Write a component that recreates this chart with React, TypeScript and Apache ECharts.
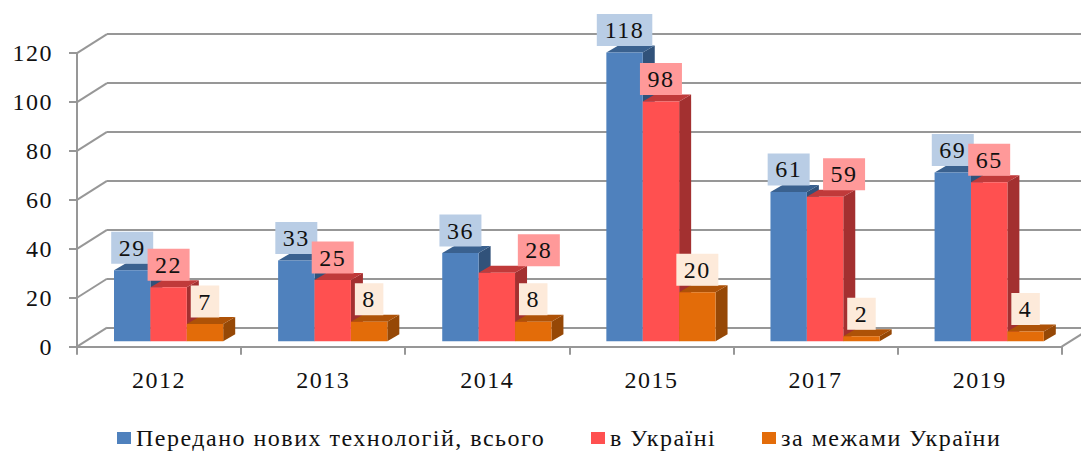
import React, { useEffect, useRef } from "react";
import * as echarts from "echarts";

const categories = ["2012", "2013", "2014", "2015", "2017", "2019"];
const yTicks = [0, 20, 40, 60, 80, 100, 120];
const totalValues = [29, 33, 36, 118, 61, 69];
const ukraineValues = [22, 25, 28, 98, 59, 65];
const abroadValues = [7, 8, 8, 20, 2, 4];
const seriesNames = ["Передано нових технологій, всього", "в Україні", "за межами України"];

const faces = [
  { front: "#4F81BD", top: "#3A618F", side: "#31527A", label: "#B9CDE5" },
  { front: "#FF5050", top: "#C03A3A", side: "#A33030", label: "#FF9999" },
  { front: "#E36C09", top: "#AE5207", side: "#964806", label: "#FDEADA" },
];
const GREY = "#979797";
const FONT = '"Liberation Serif", "Times New Roman", serif';
const WALL = { dx: 30, dy: -19 };
const DEPTH = { dx: 12, dy: -7 };
const BAR = { inset: 37, width: 36.4, lift: 5.5 };
const labelShift: Record<string, number> = { "1:2": 42, "1:4": 19 };

function geometry(api: any, seriesIndex: number) {
  const idx = api.value(0);
  const val = api.value(1);
  const band = api.size([1, 0])[0];
  const [cx, y0] = api.coord([idx, 0]);
  const [, yv] = api.coord([idx, val]);
  const x0 = cx - band / 2 + BAR.inset + seriesIndex * BAR.width;
  return { idx, val, x0, x1: x0 + BAR.width, base: y0 - BAR.lift, top: yv - BAR.lift };
}

const barRender = (seriesIndex: number) => (_: any, api: any) => {
  const { x0, x1, base, top } = geometry(api, seriesIndex);
  const f = faces[seriesIndex];
  const { dx, dy } = DEPTH;
  return {
    type: "group",
    children: [
      { type: "polygon", shape: { points: [[x1, top], [x1 + dx, top + dy], [x1 + dx, base + dy], [x1, base]] }, style: { fill: f.side } },
      { type: "polygon", shape: { points: [[x0, top], [x1, top], [x1 + dx, top + dy], [x0 + dx, top + dy]] }, style: { fill: f.top } },
      { type: "rect", shape: { x: x0, y: top, width: x1 - x0, height: base - top }, style: { fill: f.front } },
    ],
  };
};

const labelRender = (seriesIndex: number) => (_: any, api: any) => {
  const { idx, val, x0, x1, top } = geometry(api, seriesIndex);
  const text = String(val);
  const w = text.length * 13.5 + 15;
  const h = 32;
  const shift = labelShift[`${seriesIndex}:${idx}`] || 0;
  const cx = (x0 + x1) / 2 + shift;
  const bottom = top - 6.5;
  return {
    type: "group",
    children: [
      { type: "rect", shape: { x: cx - w / 2, y: bottom - h, width: w, height: h }, style: { fill: faces[seriesIndex].label } },
      {
        type: "text",
        style: { text, x: cx, y: bottom - h / 2, align: "center", verticalAlign: "middle", fill: "#111", font: `24px ${FONT}` },
      },
    ],
  };
};

const wallRender = (_: any, api: any) => {
  const [x, y] = api.coord([0, api.value(0)]);
  const band = api.size([1, 0])[0];
  return {
    type: "line",
    shape: { x1: x - band / 2, y1: y, x2: x - band / 2 + WALL.dx, y2: y + WALL.dy },
    style: { stroke: GREY, lineWidth: 2 },
  };
};

const rightEdgeRender = (_: any, api: any) => {
  const [x, y] = api.coord([categories.length - 1, 0]);
  const band = api.size([1, 0])[0];
  return {
    type: "line",
    shape: { x1: x + band / 2, y1: y, x2: x + band / 2 + WALL.dx, y2: y + WALL.dy },
    style: { stroke: GREY, lineWidth: 2 },
  };
};

const valuesBySeries = [totalValues, ukraineValues, abroadValues];

export default function App() {
  const ref = useRef<HTMLDivElement>(null);
  useEffect(() => {
    document.body.style.margin = "0";
    const chart = echarts.init(ref.current!, undefined, { renderer: "svg" });
    const legendLefts = [112, 586, 757];
    chart.setOption({
      animation: false,
      backgroundColor: "#fff",
      grid: [
        { left: 77, top: 53.1, width: 984.7, height: 293.6 },
        { left: 107, top: 34.1, width: 1000, height: 293.6 },
      ],
      xAxis: [
        {
          type: "category",
          gridIndex: 0,
          data: categories,
          axisLine: { lineStyle: { color: GREY, width: 2 } },
          axisTick: { show: true, alignWithLabel: false, length: 8, lineStyle: { color: GREY, width: 2 } },
          axisLabel: { margin: 21, color: "#111", fontFamily: FONT, fontSize: 24 },
        },
        { type: "category", gridIndex: 1, data: categories, show: false },
      ],
      yAxis: [
        {
          type: "value",
          gridIndex: 0,
          min: 0,
          max: 120,
          interval: 20,
          axisLine: { show: true, lineStyle: { color: GREY, width: 2 } },
          axisTick: { show: true, length: 8, lineStyle: { color: GREY, width: 2 } },
          axisLabel: { margin: 24, color: "#111", fontFamily: FONT, fontSize: 24 },
          splitLine: { show: false },
        },
        {
          type: "value",
          gridIndex: 1,
          min: 0,
          max: 120,
          interval: 20,
          axisLine: { show: false },
          axisTick: { show: false },
          axisLabel: { show: false },
          splitLine: { show: true, lineStyle: { color: GREY, width: 2 } },
        },
      ],
      legend: seriesNames.map((name, i) => ({
        data: [name],
        left: legendLefts[i],
        top: 421,
        icon: "rect",
        itemWidth: 14,
        itemHeight: 12,
        itemGap: 0,
        selectedMode: false,
        textStyle: { color: "#111", fontFamily: FONT, fontSize: 24, lineHeight: 24, padding: [0, 0, 0, 0] },
      })),
      series: [
        {
          type: "custom",
          xAxisIndex: 0,
          yAxisIndex: 0,
          z: 1,
          silent: true,
          data: yTicks.map((v) => [v]),
          encode: { y: 0 },
          renderItem: wallRender,
        },
        {
          type: "custom",
          xAxisIndex: 0,
          yAxisIndex: 0,
          z: 1,
          silent: true,
          data: [[0]],
          renderItem: rightEdgeRender,
        },
        ...valuesBySeries.map((vals, s) => ({
          type: "custom",
          name: seriesNames[s],
          xAxisIndex: 0,
          yAxisIndex: 0,
          z: 3 + s,
          silent: true,
          itemStyle: { color: faces[s].front },
          data: vals.map((v, i) => [i, v]),
          encode: { x: 0, y: 1 },
          renderItem: barRender(s),
        })),
        ...valuesBySeries.map((vals, s) => ({
          type: "custom",
          xAxisIndex: 0,
          yAxisIndex: 0,
          z: 10 + s,
          silent: true,
          data: vals.map((v, i) => [i, v]),
          encode: { x: 0, y: 1 },
          renderItem: labelRender(s),
        })),
      ],
    });
    return () => chart.dispose();
  }, []);
  return <div ref={ref} style={{ width: 1081, height: 451, letterSpacing: "1.5px", overflow: "hidden" }} />;
}
